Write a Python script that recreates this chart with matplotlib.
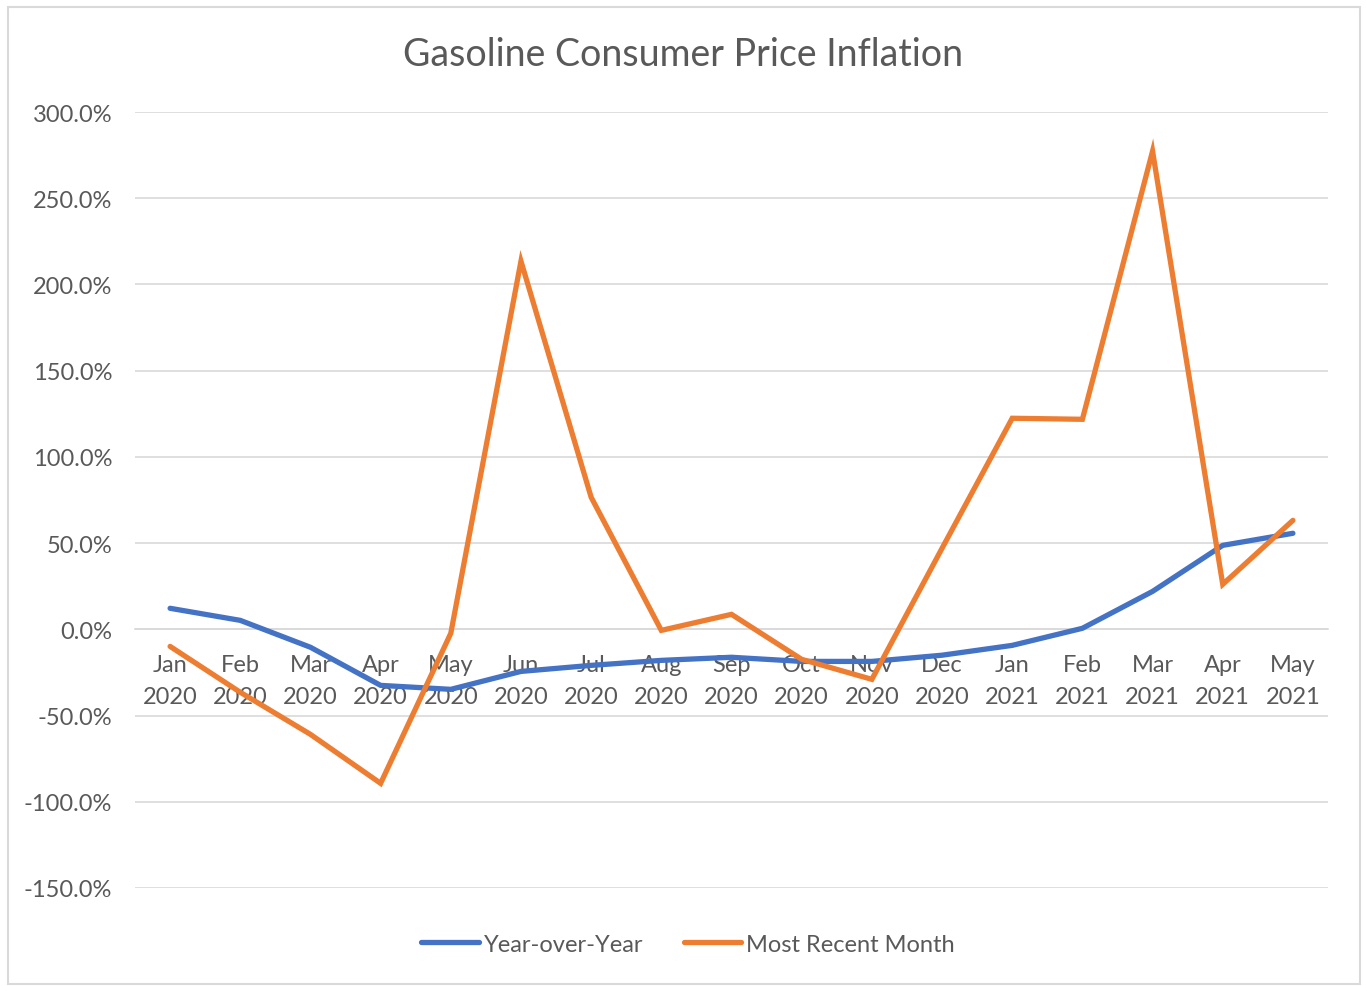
import matplotlib
matplotlib.use("Agg")
import matplotlib.pyplot as plt
from matplotlib.patches import Rectangle
from matplotlib.ticker import FuncFormatter, MultipleLocator

months = ["Jan\n2020", "Feb\n2020", "Mar\n2020", "Apr\n2020", "May\n2020", "Jun\n2020",
          "Jul\n2020", "Aug\n2020", "Sep\n2020", "Oct\n2020", "Nov\n2020", "Dec\n2020",
          "Jan\n2021", "Feb\n2021", "Mar\n2021", "Apr\n2021", "May\n2021"]
yoy = [12.2, 5.2, -10.4, -32.5, -34.8, -24.4, -20.9, -18.0, -16.2, -18.6, -18.6,
       -15.0, -9.3, 0.6, 22.0, 48.7, 55.7]
recent = [-9.9, -36.5, -60.9, -89.3, -2.3, 213.5, 76.6, -0.6, 8.7, -17.4, -29.0,
          47.0, 122.4, 121.8, 277.3, 26.1, 63.2]

plt.rcParams['font.family'] = ['Lato', 'DejaVu Sans']
txt = '#595959'

fig = plt.figure(figsize=(13.66, 9.87), dpi=100)
fig.patches.append(Rectangle((8/1366, 2/987), 1352/1366, 977/987, transform=fig.transFigure,
                             fill=False, edgecolor='#d9d9d9', linewidth=1.5))
ax = fig.add_axes([135/1366, 1 - 889/987, (1328-135)/1366, (889-113)/987])
x = list(range(len(months)))
ax.plot(x, yoy, color='#4472C4', lw=3.8, solid_capstyle='round', solid_joinstyle='round',
        label='Year-over-Year', zorder=3)
ax.plot(x, recent, color='#ED7D31', lw=3.8, solid_capstyle='round', solid_joinstyle='miter',
        label='Most Recent Month', zorder=3)

ax.set_xlim(-0.5, len(months) - 0.5)
ax.set_ylim(-150, 300)
ax.yaxis.set_major_locator(MultipleLocator(50))
ax.yaxis.set_major_formatter(FuncFormatter(lambda v, p: f"{v:.1f}%"))
ax.grid(axis='y', color='#d9d9d9', lw=1.2)
ax.set_axisbelow(True)
for s in ['top', 'right', 'left']:
    ax.spines[s].set_visible(False)
ax.spines['bottom'].set_position(('data', 0))
ax.spines['bottom'].set_color('#d9d9d9')
ax.spines['bottom'].set_linewidth(1.2)
ax.set_xticks(x)
ax.set_xticklabels(months, fontsize=17, color=txt, linespacing=1.65)
ax.tick_params(axis='x', length=0, pad=17.5)
ax.tick_params(axis='y', length=0, pad=16.5, labelsize=17, labelcolor=txt)

fig.text(0.5, 1 - 55/987, 'Gasoline Consumer Price Inflation', ha='center', va='center',
         fontsize=27, color=txt)
fig.legend(loc='center', bbox_to_anchor=(688/1366, 1 - 945/987), ncol=2, frameon=False,
           fontsize=17, labelcolor=txt, handlelength=2.45, handletextpad=0.2, columnspacing=1.7)

fig.savefig('out.png', dpi=100, facecolor='white')
